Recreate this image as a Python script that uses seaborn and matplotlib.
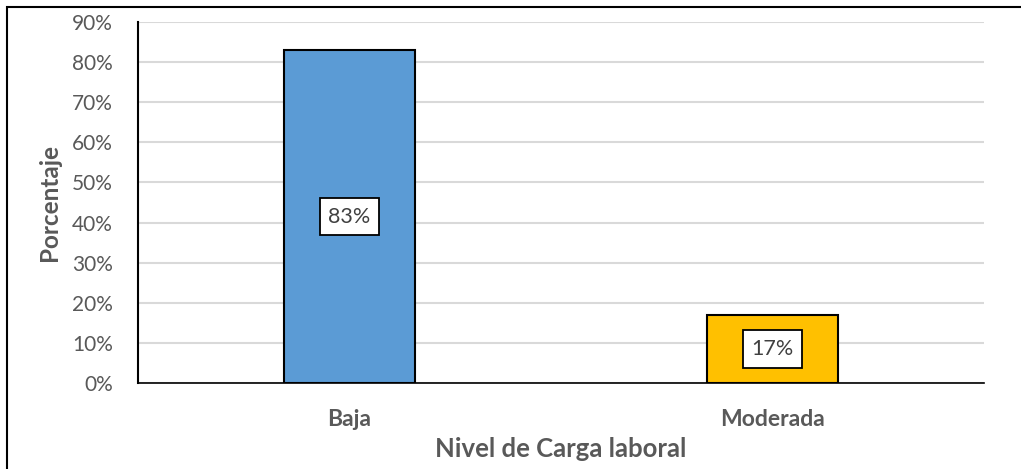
import numpy as np
import pandas as pd
import seaborn as sns
import matplotlib.pyplot as plt
from matplotlib.patches import Rectangle
from matplotlib.ticker import PercentFormatter

# Datos del grafico
niveles = ['Baja', 'Moderada']
porcentajes = [83, 17]
colores = ['#5B9BD5', '#FFC000']

df = pd.DataFrame({'nivel': niveles, 'pct': porcentajes})

sns.set_style('white')
plt.rcParams['font.family'] = ['Lato', 'DejaVu Sans']

fig = plt.figure(figsize=(10.21, 4.69), dpi=100)
ax = fig.add_axes([138 / 1021, 1 - 383 / 469, (984 - 138) / 1021, (383 - 22) / 469])

sns.barplot(data=df, x='nivel', y='pct', hue='nivel', palette=colores, legend=False,
            saturation=1, width=0.31, edgecolor='black', linewidth=1.5, ax=ax, zorder=3)

# Etiquetas dentro de las barras
for i, v in enumerate(porcentajes):
    ax.text(i, v / 2, f'{v}%', ha='center', va='center', fontsize=15.5, color='#404040',
            bbox=dict(boxstyle='square,pad=0.4', facecolor='white', edgecolor='black', linewidth=1.3),
            zorder=4)

ax.set_ylim(0, 90)
ax.set_xlim(-0.5, 1.5)
ax.set_yticks(np.arange(0, 91, 10))
ax.yaxis.set_major_formatter(PercentFormatter(decimals=0))
ax.grid(axis='y', color='#D9D9D9', linewidth=1.5, zorder=0)
ax.tick_params(axis='y', labelsize=15, labelcolor='#595959', length=0, pad=18)
ax.tick_params(axis='x', labelsize=16.5, labelcolor='#595959', length=0, pad=19)
for lbl in ax.get_xticklabels():
    lbl.set_fontweight('bold')

for s in ['top', 'right']:
    ax.spines[s].set_visible(False)
ax.spines['left'].set_color('black')
ax.spines['left'].set_linewidth(1.5)
ax.spines['bottom'].set_color('black')
ax.spines['bottom'].set_linewidth(1.2)

ax.set_xlabel('Nivel de Carga laboral', fontsize=18.5, fontweight='bold', color='#595959', labelpad=5)
ax.set_ylabel('Porcentaje', fontsize=17.5, fontweight='bold', color='#595959', labelpad=8)

# Marco exterior
fig.patches.append(Rectangle((7 / 1021, -0.1), 1.2, 1 - 7 / 469 + 0.1, transform=fig.transFigure,
                             fill=False, edgecolor='black', linewidth=1.5))

plt.savefig('out.png', dpi=100)
